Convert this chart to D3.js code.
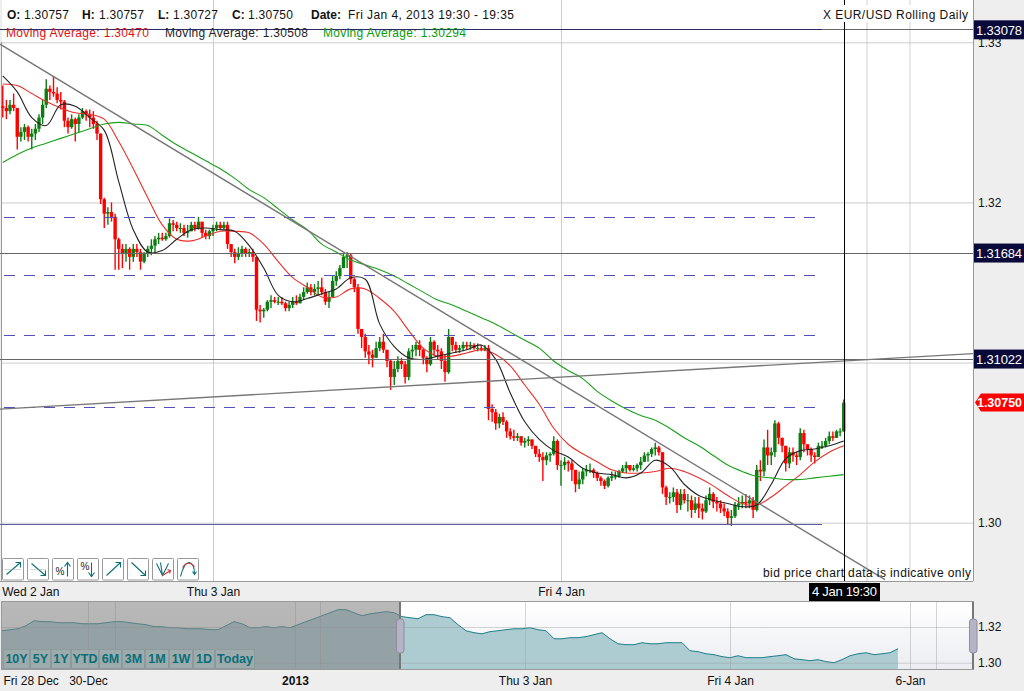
<!DOCTYPE html>
<html>
<head>
<meta charset="utf-8">
<script src="https://cdn.jsdelivr.net/npm/d3@7"></script>
<style>
  body { margin: 0; background: #eeeeee; }
  svg { display: block; }
  text { font-family: "Liberation Sans", Arial, sans-serif; }
</style>
</head>
<body>
<div id="chart"></div>
<script>
// 15 minute bars, pips above 1.3000, first bar is Wed 2 Jan 09:30
const barHigh = [273,264,264,268,259,247,249,248,246,249,255,264,277,273,279,272,269,264,253,255,253,255,259,258,258,257,251,243,203,197,200,193,178,174,174,172,174,174,171,169,173,177,179,181,181,181,190,189,188,187,186,186,188,188,191,187,183,183,186,188,188,188,188,174,171,172,173,172,171,171,166,136,134,139,142,141,141,141,138,138,141,142,143,147,150,149,149,151,153,146,144,154,157,161,168,169,168,153,149,121,118,111,108,113,116,118,108,102,101,104,103,101,109,111,113,114,109,104,116,114,111,109,105,121,116,113,111,113,113,113,112,112,111,111,111,74,71,68,69,64,59,58,56,54,53,54,52,48,46,44,44,44,54,52,39,41,39,39,33,32,34,36,37,34,32,29,27,29,32,32,33,36,38,36,36,37,41,44,44,47,50,48,44,23,19,22,21,21,21,18,17,16,16,12,17,22,19,16,14,12,9,8,13,16,17,18,17,16,36,39,52,58,47,64,63,53,48,47,47,44,59,58,49,47,44,50,51,53,57,57,58,59,77];
const barLow = [253,252,255,257,233,238,239,238,233,239,244,249,259,264,266,262,258,247,243,246,238,244,252,251,247,246,239,199,184,186,188,158,158,159,163,158,163,166,158,162,166,167,169,174,176,176,178,182,182,181,179,178,182,182,183,178,177,177,179,182,183,183,171,166,162,164,166,166,166,163,126,125,128,132,134,137,136,136,132,132,134,136,137,139,143,142,142,142,142,136,134,141,148,152,159,159,149,144,118,109,103,99,97,103,107,106,97,83,86,94,96,87,89,103,104,104,99,94,98,104,102,96,88,93,107,106,106,107,108,108,108,107,107,107,64,63,58,59,61,53,52,51,51,48,47,48,46,41,38,26,36,38,42,33,23,33,32,26,19,21,24,29,31,28,26,23,21,22,26,27,28,31,31,32,32,32,33,38,38,41,42,42,18,11,12,13,6,8,12,7,3,6,3,2,6,11,9,7,6,4,-1,-2,3,8,9,9,9,3,7,26,29,36,36,41,49,44,32,34,38,36,39,44,42,38,37,41,46,47,49,51,53,54,57];
const barClose = [259,257,261,259,241,244,247,241,243,246,253,261,271,269,268,264,263,251,247,252,249,253,257,255,253,249,243,202,193,194,191,177,171,168,171,166,171,169,163,168,171,173,177,178,177,179,187,186,184,184,181,182,186,184,188,181,179,182,184,186,184,186,174,169,166,168,171,168,169,166,133,132,133,138,139,138,138,137,134,136,138,137,141,144,147,144,146,147,144,138,141,151,154,159,166,167,152,147,121,116,107,105,103,109,113,108,101,91,96,101,99,91,107,108,111,108,103,99,113,108,107,101,94,116,111,108,109,111,110,111,109,109,108,109,71,69,62,66,63,57,54,53,54,50,51,52,48,43,41,39,42,43,51,36,36,38,37,33,24,27,32,33,33,31,28,26,23,28,29,29,32,34,36,33,34,36,38,42,43,46,47,44,22,16,16,19,11,18,14,14,8,12,9,7,14,18,13,12,9,7,3,4,11,12,13,12,14,8,33,32,47,42,44,62,53,48,37,44,42,41,56,49,46,42,41,48,48,51,54,53,57,57,75];

// moving averages read hourly from Wed 2 Jan 09:30
const maBlack = [279,269,253,248,261,260,253,245,213,183,169,170,177,183,184,183,182,173,159,142,138,140,143,146,153,152,124,110,103,102,104,106,108,111,102,81,63,52,45,41,34,31,30,28,31,39,35,24,17,14,12,10,11,24,40,45,46,48,51];
const maRed = [274,273,268,263,259,256,255,252,238,221,203,186,177,176,179,182,182,181,174,163,153,147,141,141,146,146,140,132,120,109,104,104,106,108,105,98,86,74,59,49,43,38,33,31,31,32,34,32,28,23,17,12,11,16,23,30,38,44,48];
const maGreen = [225,230,234,237,240,243,246,249,250,249,248,242,236,231,226,221,215,208,203,196,189,183,174,169,164,161,158,154,149,144,139,136,132,128,124,119,114,109,101,95,90,82,76,71,67,64,59,53,48,42,36,32,29,28,27,27,28,29,30];

// drawn levels and trend lines
const solidLevels = [1.33078, 1.31684, 1.31022];
const dashedLevels = [1.31906, 1.31544, 1.31175, 1.30725];
const supportLevel = 1.29995;
const trendDown = [[-14.69, 1.32988], [46.34, 1.29644]];
const trendUp = [[-14.69, 1.30709], [52.41, 1.31056]];
const priceGrid = [1.30, 1.31, 1.32, 1.33];
const priceLabels = [1.30, 1.32, 1.33];
const futureGridHours = [45.07, 48.03];
const dayLabels = ["Wed 2 Jan", "Thu 3 Jan", "Fri 4 Jan"];

// navigator strip, one sample per step, pips above 1.3000
const navValues = [179,185,190,207,235,230,230,224,224,224,218,218,218,224,230,230,224,218,213,202,202,196,196,190,190,190,185,185,207,230,218,196,196,202,196,202,196,213,230,246,263,280,297,297,280,263,274,280,286,280,258,252,246,269,269,258,252,213,179,168,162,174,179,185,190,190,196,185,179,134,134,140,140,146,157,168,134,106,101,101,112,106,106,112,112,112,67,62,50,45,34,28,39,28,28,28,34,39,45,22,17,11,17,6,0,17,39,50,56,45,50,56,78];
const navTickPos = [0.12, 10.75, 36.62, 65.38, 91, 113.5];
const navTickLabels = ["Fri 28 Dec", "30-Dec", "2013", "Thu 3 Jan", "Fri 4 Jan", "6-Jan"];
const navGridPos = [10.75, 14.12, 36.62, 39.75, 65.38, 91, 113.5, 116.75];
const rangeButtons = ["10Y", "5Y", "1Y", "YTD", "6M", "3M", "1M", "1W", "1D", "Today"];
const rangeButtonWidths = [27, 21, 20, 28, 23, 23, 24, 24, 22, 40];

const maColors = ["#e8302a", "#222222", "#18a018"];
const maReadout = ["1.30470", "1.30508", "1.30294"];

const W = 1024;
const H = 691;
const plot = { left: 2, right: 973, bottom: 581 };
const nav = { top: 602, bottom: 669, split: 400 };

const svg = d3
  .select("#chart")
  .append("svg")
  .attr("width", W)
  .attr("height", H);

function pipsToPrice(p) {
  return 1.3 + p / 10000;
}

const start = Date.UTC(2013, 0, 2, 9, 30);
const thu3 = Date.UTC(2013, 0, 3);
const fri4 = Date.UTC(2013, 0, 4);
const last = Date.UTC(2013, 0, 4, 19, 30);

const x = d3.scaleUtc().domain([start, last]).range([2.75, 843.75]);
const y = d3.scaleLinear().domain([1.3, 1.33]).range([522.7, 42.3]);

function hoursToDate(h) {
  return new Date(thu3 + h * 3600000);
}

// background
svg.append("rect").attr("width", W).attr("height", H).attr("fill", "#eeeeee");
svg
  .append("rect")
  .attr("x", plot.left)
  .attr("y", 0)
  .attr("width", plot.right - plot.left)
  .attr("height", plot.bottom)
  .attr("fill", "#ffffff");

// grid through the axes
const gridX = svg
  .append("g")
  .attr("transform", `translate(0,${plot.bottom})`)
  .call(
    d3.axisBottom(x).tickValues([new Date(thu3), new Date(fri4)]).tickSize(-plot.bottom).tickFormat("")
  );
gridX.select(".domain").remove();
gridX.selectAll("line").attr("stroke", "#cccccc");

const gridFuture = svg
  .append("g")
  .attr("transform", `translate(0,${plot.bottom})`)
  .call(d3.axisBottom(x).tickValues(futureGridHours.map(hoursToDate)).tickSize(-plot.bottom).tickFormat(""));
gridFuture.select(".domain").remove();
gridFuture.selectAll("line").attr("stroke", "#e0e0e0").attr("stroke-width", 1.5);

const gridY = svg
  .append("g")
  .attr("transform", `translate(${plot.left},0)`)
  .call(d3.axisRight(y).tickValues(priceGrid).tickSize(plot.right - plot.left).tickFormat(""));
gridY.select(".domain").remove();
gridY.selectAll("line").attr("stroke", "#cccccc");

// borders
svg.append("line").attr("x1", 1.5).attr("x2", 1.5).attr("y1", 42).attr("y2", plot.bottom).attr("stroke", "#999999");
svg.append("line").attr("x1", plot.right + 0.5).attr("x2", plot.right + 0.5).attr("y1", 0).attr("y2", plot.bottom).attr("stroke", "#999999");
svg.append("line").attr("x1", 0).attr("x2", plot.right).attr("y1", plot.bottom + 0.5).attr("y2", plot.bottom + 0.5).attr("stroke", "#999999");

// candles
const bars = barClose.map((close, i) => ({
  t: d3.utcMinute.offset(new Date(start), i * 15),
  open: i === 0 ? 260 : barClose[i - 1],
  high: barHigh[i],
  low: barLow[i],
  close: close,
}));

function barColor(d) {
  return d.close >= d.open ? "#0b7d12" : "#ff0000";
}

const candles = svg.append("g").attr("class", "candles");
candles
  .selectAll("line")
  .data(bars)
  .join("line")
  .attr("x1", (d) => x(d.t))
  .attr("x2", (d) => x(d.t))
  .attr("y1", (d) => y(pipsToPrice(d.high)))
  .attr("y2", (d) => y(pipsToPrice(d.low)))
  .attr("stroke", barColor)
  .attr("stroke-width", 1.4);
candles
  .selectAll("rect")
  .data(bars)
  .join("rect")
  .attr("x", (d) => x(d.t) - 1.7)
  .attr("width", 3.4)
  .attr("y", (d) => y(pipsToPrice(Math.max(d.open, d.close))))
  .attr("height", (d) => Math.max(1, Math.abs(y(pipsToPrice(d.open)) - y(pipsToPrice(d.close)))))
  .attr("fill", barColor);

// moving averages
const maLine = d3
  .line()
  .x((d, i) => x(d3.utcHour.offset(new Date(start), i)))
  .y((d) => y(pipsToPrice(d)))
  .curve(d3.curveCatmullRom);

[maRed, maBlack, maGreen].forEach((series, i) => {
  svg
    .append("path")
    .attr("d", maLine(series))
    .attr("fill", "none")
    .attr("stroke", maColors[i])
    .attr("stroke-width", 1.1);
});

// solid levels, the top one runs navy under the readouts
svg
  .append("g")
  .selectAll("line")
  .data(solidLevels)
  .join("line")
  .attr("x1", 0)
  .attr("x2", plot.right)
  .attr("y1", (d) => Math.floor(y(d)) + 0.5)
  .attr("y2", (d) => Math.floor(y(d)) + 0.5)
  .attr("stroke", "#666666");

svg
  .append("line")
  .attr("x1", 0)
  .attr("x2", 822)
  .attr("y1", Math.floor(y(solidLevels[0])) + 0.5)
  .attr("y2", Math.floor(y(solidLevels[0])) + 0.5)
  .attr("stroke", "#2a2a6a");

// dashed levels
svg
  .append("g")
  .selectAll("line")
  .data(dashedLevels)
  .join("line")
  .attr("x1", 4)
  .attr("x2", 816)
  .attr("y1", (d) => Math.round(y(d)) + 0.5)
  .attr("y2", (d) => Math.round(y(d)) + 0.5)
  .attr("stroke", "#5050b8")
  .attr("stroke-dasharray", "11 9");

svg
  .append("line")
  .attr("x1", 0)
  .attr("x2", 822)
  .attr("y1", Math.round(y(supportLevel)) + 0.5)
  .attr("y2", Math.round(y(supportLevel)) + 0.5)
  .attr("stroke", "#5c5ca6");

// trend lines
const trendLine = d3
  .line()
  .x((d) => x(hoursToDate(d[0])))
  .y((d) => y(d[1]));

[trendDown, trendUp].forEach((t) => {
  svg
    .append("path")
    .attr("d", trendLine(t))
    .attr("stroke", "#777777")
    .attr("stroke-width", 1.4)
    .attr("fill", "none");
});

// crosshair
const crossX = Math.ceil(x(last)) + 0.5;
svg
  .append("line")
  .attr("x1", crossX)
  .attr("x2", crossX)
  .attr("y1", 0)
  .attr("y2", plot.bottom)
  .attr("stroke", "#000000");

function label(parent, str, px, py, opts = {}) {
  const t = parent
    .append("text")
    .attr("x", px)
    .attr("y", py)
    .attr("font-size", opts.size || 12)
    .attr("fill", opts.fill || "#111111")
    .attr("text-anchor", opts.anchor || "start")
    .attr("font-weight", opts.weight || "normal")
    .text(str);
  if (opts.length) t.attr("textLength", opts.length).attr("lengthAdjust", "spacing");
  return t;
}

// header readout
const ohlc = [
  ["O:", "1.30757", 7, 24],
  ["H:", "1.30757", 82, 99],
  ["L:", "1.30727", 158, 173],
  ["C:", "1.30750", 232, 248],
];
ohlc.forEach((d) => {
  label(svg, d[0], d[2], 19, { weight: "bold" });
  label(svg, d[1], d[3], 19, { length: 45 });
});
label(svg, "Date:", 311, 19, { weight: "bold" });
label(svg, "Fri Jan 4, 2013 19:30 - 19:35", 348, 19, { length: 166 });

[6, 165, 323].forEach((px, i) => {
  label(svg, "Moving Average: " + maReadout[i], px, 37, {
    fill: i === 0 ? "#e01010" : i === 1 ? "#222222" : "#0a9a0a",
    length: 143,
  });
});

svg.append("rect").attr("x", 820).attr("y", 5).attr("width", 152).attr("height", 17).attr("fill", "#ffffff");
label(svg, "X EUR/USD Rolling Daily", 823, 19, { length: 145 });
label(svg, "bid price chart data is indicative only", 763, 577, { length: 208 });

// price axis
const yAxis = svg
  .append("g")
  .attr("transform", `translate(${plot.right + 5},0)`)
  .call(d3.axisRight(y).tickValues(priceLabels).tickSize(0).tickPadding(0).tickFormat(d3.format(".2f")));
yAxis.select(".domain").remove();
yAxis.selectAll("text").attr("font-size", 12).attr("fill", "#111111").attr("font-family", "Liberation Sans");

// level tags
const levelTags = svg.append("g");
solidLevels.forEach((d) => {
  const py = y(d);
  levelTags.append("rect").attr("x", 974).attr("y", py - 9.5).attr("width", 50).attr("height", 19).attr("fill", "#0a0a3a");
  label(levelTags, d.toFixed(5), 999, py + 5, { fill: "#ffffff", size: 13, anchor: "middle", length: 46 });
});

const lastPrice = pipsToPrice(barClose[barClose.length - 1]);
const lastY = y(lastPrice);
svg
  .append("path")
  .attr("d", `M975 ${lastY}L981 ${lastY - 9}H1024V${lastY + 9}H981Z`)
  .attr("fill", "#ff0000");
label(svg, lastPrice.toFixed(5), 977, lastY + 4.5, { fill: "#ffffff", size: 12.5, weight: "bold", length: 45 });

// main time axis
const xAxis = svg
  .append("g")
  .attr("transform", `translate(0,${plot.bottom})`)
  .call(
    d3
      .axisBottom(x)
      .tickValues([new Date(start), new Date(thu3), new Date(fri4)])
      .tickSize(0)
      .tickPadding(6)
      .tickFormat((d, i) => dayLabels[i])
  );
xAxis.select(".domain").remove();
xAxis
  .selectAll("text")
  .attr("font-size", 12)
  .attr("fill", "#111111")
  .attr("font-family", "Liberation Sans")
  .attr("text-anchor", (d, i) => (i === 0 ? "start" : "middle"))
  .attr("dx", (d, i) => (i === 0 ? -1 : 0));

// crosshair time tag
svg.append("rect").attr("x", crossX - 35.5).attr("y", 583).attr("width", 71).attr("height", 18).attr("fill", "#000000");
label(svg, "4 Jan 19:30", crossX, 596, { fill: "#ffffff", size: 13, anchor: "middle", length: 65 });

// toolbar icons, paths are relative to each 21x22 button
const teal = "#0c6f78";
const toolIcons = [
  [["M4 16L18 4M13 4H18V9", teal], ["M3 11H18", "#aaaaaa"]],
  [["M4 5L18 17M13 17H18V12", teal], ["M3 11H18", "#aaaaaa"]],
  [["M15 18V4M12 8L15 4L18 8", teal]],
  [["M14 4V18M11 14L14 18L17 14", teal]],
  [["M4 17L18 4M13 4H18V9", teal]],
  [["M4 4L18 17M13 17H18V12", teal]],
  [["M4 5L10 17L16 5M8 4L10 17", teal], ["M10 17L18 12M15 11L18 12L17 15", "#d8343c"]],
  [["M3 18Q7 3 12 4T17 16M15 13L17 16L19 13", teal], ["M5 9Q10 1 17 8", "#d8343c"]],
];
const toolGlyphs = { 2: ["%", 3, 16], 3: ["%", 3, 11] };
toolIcons.forEach((paths, i) => {
  const b = svg.append("g").attr("transform", `translate(${2.5 + i * 25},558.5)`);
  b.append("rect").attr("width", 21).attr("height", 21.5).attr("rx", 1).attr("fill", "#ffffff").attr("stroke", "#999999");
  paths.forEach((p) => {
    b.append("path")
      .attr("d", p[0])
      .attr("fill", "none")
      .attr("stroke", p[1])
      .attr("stroke-dasharray", p[1] === "#aaaaaa" ? "1 1" : null)
      .attr("stroke-width", 1.1);
  });
  if (toolGlyphs[i]) {
    label(b, toolGlyphs[i][0], toolGlyphs[i][1], toolGlyphs[i][2], { size: 10, fill: "#222222" });
  }
});

// navigator
const navX = d3.scaleLinear().domain([0, 121.375]).range([2, plot.right]);
const navY = d3.scaleLinear().domain([1.3, 1.32]).range([662.7, 627]);

const defs = svg.append("defs");
const grad = defs.append("linearGradient").attr("id", "navbg").attr("x1", 0).attr("x2", 0).attr("y1", 0).attr("y2", 1);
grad.append("stop").attr("offset", "0%").attr("stop-color", "#ffffff");
grad.append("stop").attr("offset", "100%").attr("stop-color", "#ecedf2");

svg
  .append("rect")
  .attr("x", plot.left)
  .attr("y", nav.top)
  .attr("width", plot.right - plot.left)
  .attr("height", nav.bottom - nav.top)
  .attr("fill", "url(#navbg)");

const navArea = d3
  .area()
  .x((d, i) => navX(i))
  .y0(nav.bottom)
  .y1((d) => navY(pipsToPrice(d)));
const navLine = d3
  .line()
  .x((d, i) => navX(i))
  .y((d) => navY(pipsToPrice(d)));

svg.append("path").attr("d", navArea(navValues)).attr("fill", "#acccd2");
svg.append("path").attr("d", navLine(navValues)).attr("fill", "none").attr("stroke", "#1f7f88").attr("stroke-width", 1);

const navGridX = svg
  .append("g")
  .attr("transform", `translate(0,${nav.bottom})`)
  .call(d3.axisBottom(navX).tickValues(navGridPos).tickSize(-(nav.bottom - nav.top)).tickFormat(""));
navGridX.select(".domain").remove();
navGridX.selectAll("line").attr("stroke", "#999999").attr("stroke-opacity", 0.4);

const navGridY = svg
  .append("g")
  .attr("transform", `translate(${plot.left},0)`)
  .call(d3.axisRight(navY).tickValues([1.3, 1.32]).tickSize(plot.right - plot.left).tickFormat(""));
navGridY.select(".domain").remove();
navGridY.selectAll("line").attr("stroke", "#999999").attr("stroke-opacity", 0.4);

// unselected part of the range
svg
  .append("rect")
  .attr("x", plot.left)
  .attr("y", nav.top)
  .attr("width", nav.split - plot.left)
  .attr("height", nav.bottom - nav.top)
  .attr("fill", "rgb(131,131,131)")
  .attr("fill-opacity", 0.57);

svg
  .append("rect")
  .attr("x", 1.5)
  .attr("y", nav.top - 0.5)
  .attr("width", plot.right - 1)
  .attr("height", nav.bottom - nav.top + 1)
  .attr("fill", "none")
  .attr("stroke", "#999999");
svg.append("line").attr("x1", nav.split).attr("x2", nav.split).attr("y1", nav.top).attr("y2", nav.bottom).attr("stroke", "#777777").attr("stroke-width", 2);
svg.append("line").attr("x1", plot.right).attr("x2", plot.right).attr("y1", nav.top).attr("y2", nav.bottom).attr("stroke", "#777777").attr("stroke-width", 2);

[nav.split, plot.right].forEach((px) => {
  svg
    .append("rect")
    .attr("x", px - 3.5)
    .attr("y", 619)
    .attr("width", 7.5)
    .attr("height", 34)
    .attr("rx", 3)
    .attr("fill", "#b4b4c6")
    .attr("stroke", "#8d8d9c");
});

// range buttons
let btnX = 3;
rangeButtons.forEach((name, i) => {
  const w = rangeButtonWidths[i];
  svg
    .append("rect")
    .attr("x", btnX + 0.5)
    .attr("y", 649.5)
    .attr("width", w - 1)
    .attr("height", 19)
    .attr("fill", "#a3b1b3")
    .attr("fill-opacity", 0.6)
    .attr("stroke", "#8d9a9c");
  label(svg, name, btnX + w / 2, 663, { size: 12.5, weight: "bold", fill: "#0b6e78", anchor: "middle" });
  btnX += w;
});

const navAxis = svg
  .append("g")
  .attr("transform", `translate(0,${nav.bottom})`)
  .call(
    d3
      .axisBottom(navX)
      .tickValues(navTickPos)
      .tickSize(0)
      .tickPadding(7)
      .tickFormat((d, i) => navTickLabels[i])
  );
navAxis.select(".domain").remove();
navAxis
  .selectAll("text")
  .attr("font-size", 12)
  .attr("fill", "#111111")
  .attr("font-family", "Liberation Sans")
  .attr("font-weight", (d, i) => (navTickLabels[i] === "2013" ? "bold" : "normal"))
  .attr("text-anchor", (d, i) => (i === 0 ? "start" : "middle"));

const navYAxis = svg
  .append("g")
  .attr("transform", `translate(${plot.right + 5},0)`)
  .call(d3.axisRight(navY).tickValues([1.3, 1.32]).tickSize(0).tickPadding(0).tickFormat(d3.format(".2f")));
navYAxis.select(".domain").remove();
navYAxis.selectAll("text").attr("font-size", 12).attr("fill", "#111111").attr("font-family", "Liberation Sans");
</script>
</body>
</html>
